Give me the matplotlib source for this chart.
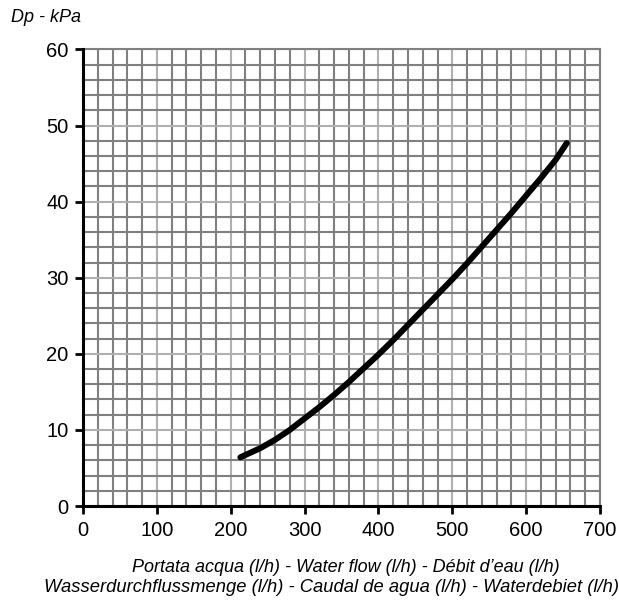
import matplotlib
matplotlib.use("Agg")
import matplotlib.pyplot as plt
from matplotlib.ticker import MultipleLocator

# Water flow (l/h) and pressure drop (kPa)
flow = [213, 240, 260, 280, 300, 320, 340, 360, 380, 400, 420, 440,
        460, 480, 500, 520, 540, 560, 580, 600, 620, 640, 655]
dp = [6.4, 7.6, 8.7, 10.0, 11.5, 13.0, 14.6, 16.3, 18.1, 19.9, 21.8, 23.8,
      25.8, 27.8, 29.8, 31.9, 34.1, 36.3, 38.5, 40.8, 43.1, 45.5, 47.7]

x_ticks = [0, 100, 200, 300, 400, 500, 600, 700]
y_ticks = [0, 10, 20, 30, 40, 50, 60]

ylabel = "Dp - kPa"
xlabel_1 = "Portata acqua (l/h) - Water flow (l/h) - Débit d\u2019eau (l/h)"
xlabel_2 = "Wasserdurchflussmenge (l/h) - Caudal de agua (l/h) - Waterdebiet (l/h)"

plt.rcParams['font.family'] = ['Liberation Sans', 'DejaVu Sans']

fig = plt.figure(figsize=(6.19, 6.03), dpi=100)
ax = fig.add_axes([83/619, 1 - 506/603, (600 - 83)/619, (506 - 49.5)/603])

# Curve
ax.plot(flow, dp, color="black", linewidth=4.3, solid_capstyle="round",
        solid_joinstyle="round", zorder=5)

ax.set_xlim(0, 700)
ax.set_ylim(0, 60)
ax.set_xticks(x_ticks)
ax.set_yticks(y_ticks)
ax.xaxis.set_minor_locator(MultipleLocator(20))
ax.yaxis.set_minor_locator(MultipleLocator(2))

# Grid: dark minor lines, lighter major lines
ax.grid(which="minor", color="#808080", linewidth=1.5)
ax.grid(which="major", color="#b0b0b0", linewidth=1.5)
ax.set_axisbelow(True)

for side in ["top", "right"]:
    ax.spines[side].set_color("#808080")
    ax.spines[side].set_linewidth(1.5)
for side in ["left", "bottom"]:
    ax.spines[side].set_color("black")
    ax.spines[side].set_linewidth(2.2)
    ax.spines[side].set_zorder(6)

ax.tick_params(which="major", length=5.5, width=2.0, labelsize=14.5,
               color="black")
ax.tick_params(axis="x", which="major", pad=5)
ax.tick_params(axis="y", which="major", pad=5)
ax.tick_params(which="minor", length=0)

# Labels
fig.text(11/619, 1 - 18/603, ylabel, fontsize=13, style="italic",
         ha="left", va="center")
fig.text(346/619, 1 - 568/603, xlabel_1, fontsize=13, style="italic",
         ha="center", va="center")
fig.text(332/619, 1 - 588/603, xlabel_2, fontsize=13.2, style="italic",
         ha="center", va="center")

fig.savefig("out.png", dpi=100)
